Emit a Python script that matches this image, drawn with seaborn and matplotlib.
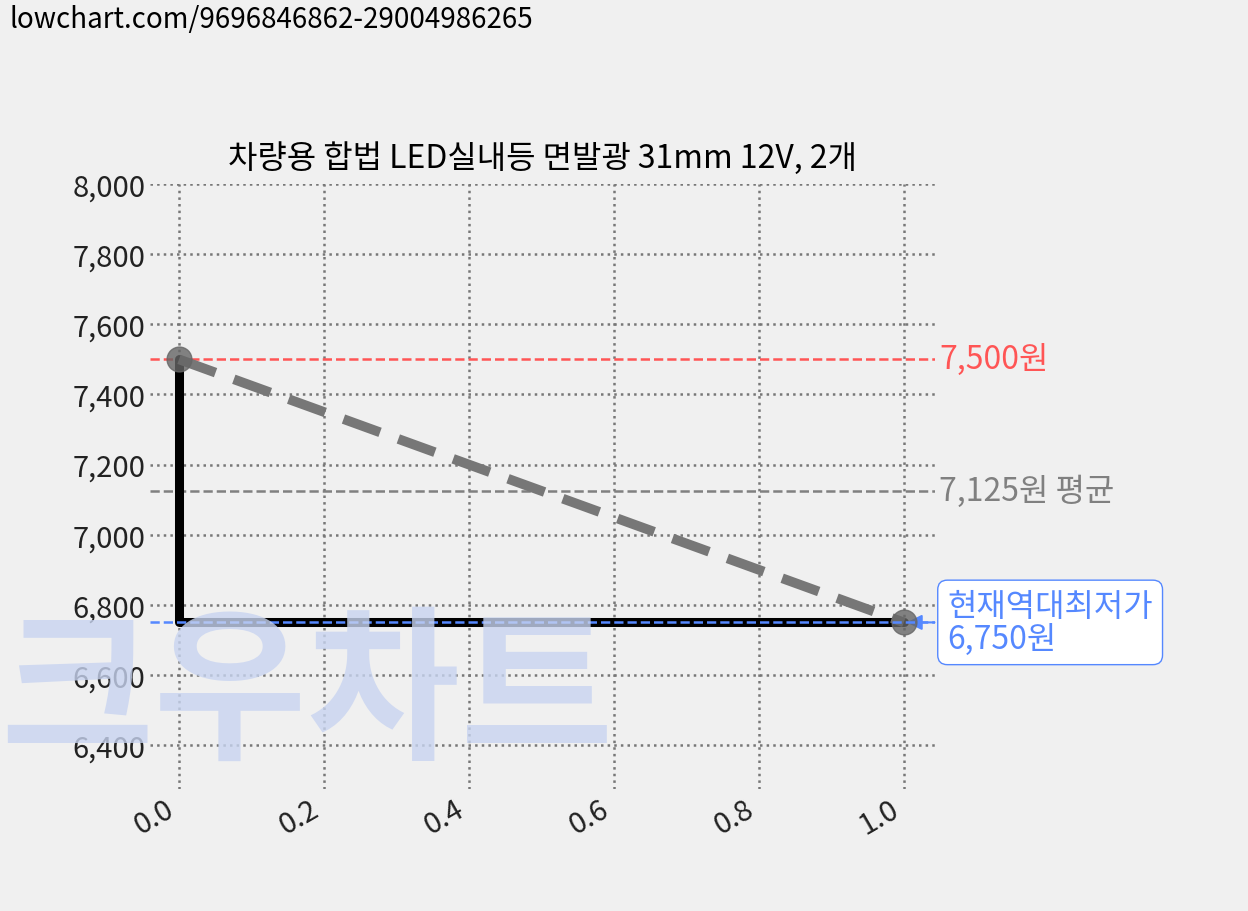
import matplotlib
matplotlib.use("Agg")
import matplotlib.pyplot as plt
import seaborn as sns

x_vals = [0.0, 1.0]
prices = [7500, 6750]
max_price = 7500
avg_price = 7125
min_price = 6750
title = "차량용 합법 LED실내등 면발광 31mm 12V, 2개"
url = "lowchart.com/9696846862-29004986265"

sns.set_theme(style="white")
plt.rcParams["font.family"] = ["Noto Sans CJK KR", "DejaVu Sans"]
bg = "#f0f0f0"

fig = plt.figure(figsize=(12.48, 9.12), dpi=100, facecolor=bg)
ax = fig.add_axes([150 / 1248, 1 - 790 / 912, 785 / 1248, 605 / 912])
ax.set_facecolor("none")

fig.text(0.008, 0.995, url, fontsize=20, va="top", ha="left", color="black")
fig.text(0.0, 0.143, "크우차트", fontsize=120, fontweight="bold", color="#c8d4f0",
         alpha=0.8, ha="left", va="bottom", zorder=0, style="italic")

# step line (black)
ax.plot([x_vals[0], x_vals[0], x_vals[1]], [prices[0], prices[1], prices[1]],
        color="black", lw=6.5, zorder=3)
sns.lineplot(x=x_vals, y=prices, ax=ax, color="#777777", lw=7, dashes=False,
             linestyle=(0, (4, 2)), zorder=4)
ax.scatter(x_vals, prices, s=320, color="#666666", alpha=0.8, zorder=5)

ax.axhline(max_price, color="#ff5555", ls="--", lw=1.8, zorder=2)
ax.axhline(avg_price, color="#808080", ls="--", lw=1.8, zorder=2)
ax.axhline(min_price, color="#5588ff", ls="--", lw=1.8, zorder=6)

ax.text(1.005, max_price, f"{max_price:,}원", color="#ff5555", fontsize=23,
        va="center", ha="left", transform=ax.get_yaxis_transform())
ax.text(1.005, avg_price, f"{avg_price:,}원 평균", color="#808080", fontsize=23,
        va="center", ha="left", transform=ax.get_yaxis_transform())
ax.annotate(f"현재역대최저가\n{min_price:,}원", xy=(1.0, min_price),
            xytext=(1.06, min_price), textcoords=("data", "data"),
            color="#5588ff", fontsize=23, va="center", ha="left", linespacing=1.05,
            bbox=dict(boxstyle="round,pad=0.3", fc="white", ec="#5588ff"),
            arrowprops=dict(arrowstyle="-|>", color="#5588ff", lw=1.5),
            annotation_clip=False)

ax.set_xlim(-0.04, 1.043)
ax.set_ylim(6275, 8000)
ax.set_xticks([0.0, 0.2, 0.4, 0.6, 0.8, 1.0])
ax.set_yticks(range(6400, 8001, 200))
ax.set_yticklabels([f"{v:,}" for v in range(6400, 8001, 200)])
ax.tick_params(axis="both", labelsize=21, colors="#222222", length=0)
for lab in ax.get_xticklabels():
    lab.set_rotation(30)
    lab.set_ha("right")
ax.grid(True, ls=":", color="#777777", lw=1.8)
for s in ax.spines.values():
    s.set_visible(False)
ax.set_title(title, fontsize=23, pad=12, color="black")

fig.savefig("out.png", dpi=100, facecolor=bg)
